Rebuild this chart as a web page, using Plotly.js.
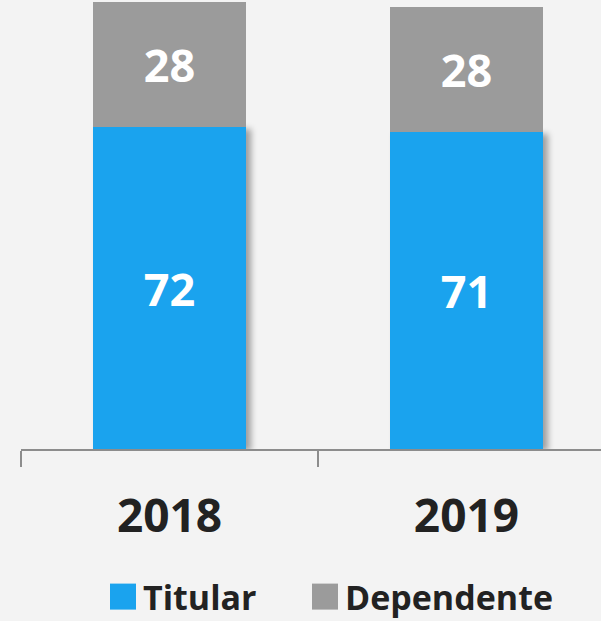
<!DOCTYPE html>
<html>
<head>
<meta charset="utf-8">
<script src="https://cdn.plot.ly/plotly-3.0.1.min.js"></script>
<style>
  html, body { margin: 0; padding: 0; background: #f3f3f3; }
  #chart { width: 601px; height: 621px; }
  .barlayer .trace:first-child .point path { filter: drop-shadow(5px 2px 3px rgba(0,0,0,0.35)); }
</style>
</head>
<body>
<div id="chart"></div>
<script>
const categories = ['2018', '2019'];
const titular = [72, 71];
const dependente = [28, 28];
const seriesNames = ['Titular', 'Dependente'];

const blue = '#1aa3ee';
const gray = '#9b9b9b';
const font = 'Open Sans, Lato, sans-serif';

const traces = [
  {
    type: 'bar', name: seriesNames[0], x: categories, y: titular,
    marker: { color: blue }, legend: 'legend',
    texttemplate: '%{y}', textposition: 'inside', insidetextanchor: 'middle', textangle: 0,
    textfont: { family: font, size: 45, color: '#ffffff', weight: 'bold' },
    hoverinfo: 'skip'
  },
  {
    type: 'bar', name: seriesNames[1], x: categories, y: dependente,
    marker: { color: gray }, legend: 'legend2',
    texttemplate: '%{y}', textposition: 'inside', insidetextanchor: 'middle', textangle: 0,
    textfont: { family: font, size: 45, color: '#ffffff', weight: 'bold' },
    hoverinfo: 'skip'
  }
];

const legendBase = {
  orientation: 'h', xref: 'container', yref: 'container',
  xanchor: 'left', y: 24 / 621, yanchor: 'middle',
  font: { family: font, size: 34, color: '#222222', weight: 'bold' },
  bgcolor: 'rgba(0,0,0,0)'
};

const layout = {
  width: 601, height: 621,
  paper_bgcolor: '#f3f3f3', plot_bgcolor: '#f3f3f3',
  margin: { l: 21, r: 0, t: 0, b: 172 },
  barmode: 'stack',
  bargap: 0.485,
  showlegend: true,
  legend: Object.assign({}, legendBase, { x: 103 / 601 }),
  legend2: Object.assign({}, legendBase, { x: 305 / 601 }),
  xaxis: {
    type: 'category', range: [-0.5, 1.453],
    showline: true, linecolor: '#8c8c8c', linewidth: 1.5,
    ticks: 'outside', tickson: 'boundaries', ticklen: 16, tickwidth: 1.5, tickcolor: '#8c8c8c',
    ticklabelstandoff: 26,
    tickfont: { family: font, size: 46, color: '#222222', weight: 'bold' },
    showgrid: false, zeroline: false
  },
  yaxis: {
    range: [0, 100.5], visible: false, showgrid: false, zeroline: false
  }
};

Plotly.newPlot('chart', traces, layout, { displayModeBar: false, staticPlot: true }).then(function (gd) {
  gd.querySelectorAll('.legendpoints path').forEach(function (p) {
    p.setAttribute('d', 'M13,13H-13V-13H13Z');
    p.style.strokeWidth = '0px';
  });
});
</script>
</body>
</html>
